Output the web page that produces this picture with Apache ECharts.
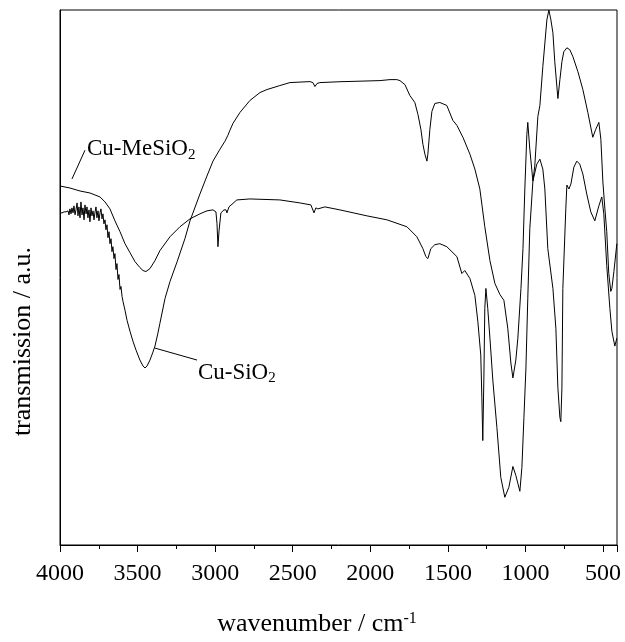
<!DOCTYPE html>
<html>
<head>
<meta charset="utf-8">
<title>IR spectra Cu-SiO2 / Cu-MeSiO2</title>
<script src="https://cdn.jsdelivr.net/npm/echarts@6/dist/echarts.min.js"></script>
<style>
  html, body { margin: 0; padding: 0; background: #fff; }
  #chart { width: 625px; height: 642px; }
</style>
</head>
<body>
<div id="chart"></div>
<script>
  // [wavenumber (cm-1), transmission (a.u.)]
  const cuSiO2 = [
    [4000,334],[3987,334],[3974,335],[3961,335],[3948,336],[3942,332],[3936,338],[3929,333],[3923,339],[3916,334],
    [3910,341],[3903,332],[3897,337],[3890,344],[3884,331],[3878,340],[3871,329],[3865,345],[3858,332],[3852,339],
    [3845,327],[3839,342],[3832,333],[3826,340],[3820,329],[3813,337],[3807,325],[3800,339],[3794,331],[3787,336],
    [3781,327],[3774,335],[3768,340],[3762,329],[3755,336],[3749,326],[3742,334],[3736,338],[3729,328],[3723,333],
    [3717,323],[3710,327],[3704,317],[3697,322],[3691,309],[3684,315],[3678,303],[3671,308],[3665,295],[3659,300],
    [3652,288],[3646,293],[3639,277],[3633,283],[3626,267],[3620,272],[3613,257],[3607,260],[3600,250],[3594,245],
    [3581,236],[3568,226],[3549,215],[3530,205],[3510,196],[3485,186],[3465,180],[3452,178],[3439,180],[3420,186],
    [3401,194],[3388,200],[3369,213],[3356,223],[3323,248],[3291,265],[3245,285],[3195,308],[3162,326],[3098,353],
    [3053,371],[3014,386],[2969,398],[2937,406],[2918,412],[2905,417],[2885,424],[2840,435],[2776,447],[2711,455],
    [2666,458],[2583,462],[2518,465],[2389,466],[2370,465],[2357,461],[2344,464],[2325,465],[2176,466],[2170,464],
    [2163,466],[1938,467],[1873,468],[1829,468],[1809,467],[1777,463],[1745,452],[1713,445],[1693,433],[1674,418],
    [1661,403],[1648,393],[1635,386],[1629,393],[1616,418],[1603,436],[1584,444],[1552,445],[1507,442],[1468,427],
    [1442,422],[1403,410],[1358,393],[1326,378],[1294,358],[1262,320],[1229,286],[1197,263],[1165,252],[1139,246],
    [1114,218],[1094,183],[1081,168],[1062,186],[1049,208],[1029,258],[1016,298],[1004,358],[991,413],[985,425],
    [972,398],[952,366],[940,381],[920,431],[907,442],[888,481],[862,528],[849,538],[836,528],[823,515],
    [811,486],[791,449],[778,468],[765,486],[753,496],[733,500],[714,498],[694,491],[662,476],[630,458],
    [598,435],[566,410],[547,418],[527,425],[514,408],[501,365],[488,338],[476,315],[463,273],[450,255],
    [443,258],[430,275],[411,303]
  ];

  const cuMeSiO2 = [
    [4000,361],[3936,359],[3871,356],[3807,354],[3742,350],[3710,345],[3678,338],[3646,326],[3613,315],[3581,303],
    [3549,294],[3517,285],[3485,279],[3465,276],[3446,275],[3420,278],[3388,286],[3356,296],[3291,310],[3227,320],
    [3162,328],[3098,333],[3053,336],[3014,337],[2995,335],[2988,323],[2982,300],[2975,316],[2963,334],[2943,337],
    [2930,337],[2924,334],[2911,340],[2860,347],[2776,348],[2583,347],[2454,344],[2383,342],[2363,334],[2351,339],
    [2338,338],[2293,340],[2196,337],[2022,331],[1893,327],[1764,320],[1700,310],[1661,298],[1642,290],[1629,288],
    [1610,298],[1584,302],[1552,303],[1507,300],[1442,290],[1410,273],[1391,276],[1358,268],[1326,251],[1307,225],
    [1288,191],[1281,148],[1275,105],[1268,168],[1262,238],[1255,258],[1243,238],[1229,208],[1210,165],[1184,118],
    [1159,68],[1133,48],[1107,58],[1081,79],[1062,70],[1036,54],[1023,78],[1010,128],[997,178],[985,248],
    [972,318],[952,366],[927,383],[907,388],[888,378],[875,358],[856,298],[823,258],[804,218],[791,158],
    [778,128],[772,124],[765,158],[759,258],[740,338],[733,362],[720,358],[707,363],[688,380],[669,386],
    [650,383],[630,373],[605,353],[579,335],[553,326],[527,341],[508,350],[495,333],[476,281],[456,238],
    [443,215],[424,200],[411,208]
  ];

  // label anchors in data space
  const meLeader = [[3923, 368], [3839, 397]];
  const meLabelAt = [3826, 398];
  const siLeader = [[3388, 198], [3117, 186]];
  const siLabelAt = [3111, 173];

  const font = 'Liberation Serif';
  const chart = echarts.init(document.getElementById('chart'));

  const lineSeries = (name, data) => ({
    name: name,
    type: 'line',
    data: data,
    symbol: 'none',
    lineStyle: { color: '#000', width: 1 },
    emphasis: { disabled: true }
  });

  chart.setOption({
    animation: false,
    textStyle: { fontFamily: font, color: '#000' },
    grid: { left: 60, right: 8, top: 10, bottom: 94, show: true, borderColor: '#000', borderWidth: 1 },
    xAxis: {
      type: 'value',
      inverse: true,
      min: 410,
      max: 4000,
      splitNumber: 7,
      minInterval: 500,
      maxInterval: 500,
      axisLine: { show: true, lineStyle: { color: '#000', width: 1 } },
      axisTick: { show: true, length: 7, lineStyle: { color: '#000' } },
      minorTick: { show: true, splitNumber: 2, length: 4, lineStyle: { color: '#000' } },
      axisLabel: {
        fontSize: 24, color: '#000', margin: 17, fontFamily: font, showMinLabel: false,
        formatter: (v) => String(v)
      },
      splitLine: { show: false },
      name: '{a|wavenumber / cm}{s|-1}',
      nameLocation: 'middle',
      nameGap: 66,
      nameTextStyle: {
        fontSize: 26,
        padding: [0, 43, 0, 0],
        rich: {
          a: { fontSize: 26, fontFamily: font, color: '#000' },
          s: { fontSize: 16, fontFamily: font, color: '#000', verticalAlign: 'top' }
        }
      }
    },
    yAxis: {
      type: 'value',
      min: 0,
      max: 538,
      axisLine: { show: true, lineStyle: { color: '#000', width: 1 } },
      axisTick: { show: false },
      axisLabel: { show: false },
      splitLine: { show: false },
      name: 'transmission / a.u.',
      nameLocation: 'middle',
      nameGap: 24,
      nameTextStyle: { fontSize: 26, fontFamily: font, color: '#000', padding: [0, 128, 0, 0] }
    },
    series: [
      lineSeries('Cu-SiO2', cuSiO2),
      lineSeries('Cu-MeSiO2', cuMeSiO2)
    ]
  });

  const px = (pt) => chart.convertToPixel({ gridIndex: 0 }, pt);
  const labelRich = {
    a: { fontSize: 23, fontFamily: font, color: '#000', lineHeight: 26 },
    s: { fontSize: 15, fontFamily: font, color: '#000', lineHeight: 15, verticalAlign: 'bottom' }
  };
  const leader = (seg) => {
    const a = px(seg[0]), b = px(seg[1]);
    return { type: 'line', shape: { x1: a[0], y1: a[1], x2: b[0], y2: b[1] }, style: { stroke: '#000', lineWidth: 1 } };
  };
  const label = (at, txt) => {
    const p = px(at);
    return { type: 'text', x: p[0], y: p[1], style: { text: txt, rich: labelRich, align: 'left', verticalAlign: 'middle' } };
  };

  chart.setOption({
    graphic: [
      leader(meLeader),
      label(meLabelAt, '{a|Cu-MeSiO}{s|2}'),
      leader(siLeader),
      label(siLabelAt, '{a|Cu-SiO}{s|2}')
    ]
  });
</script>
</body>
</html>
